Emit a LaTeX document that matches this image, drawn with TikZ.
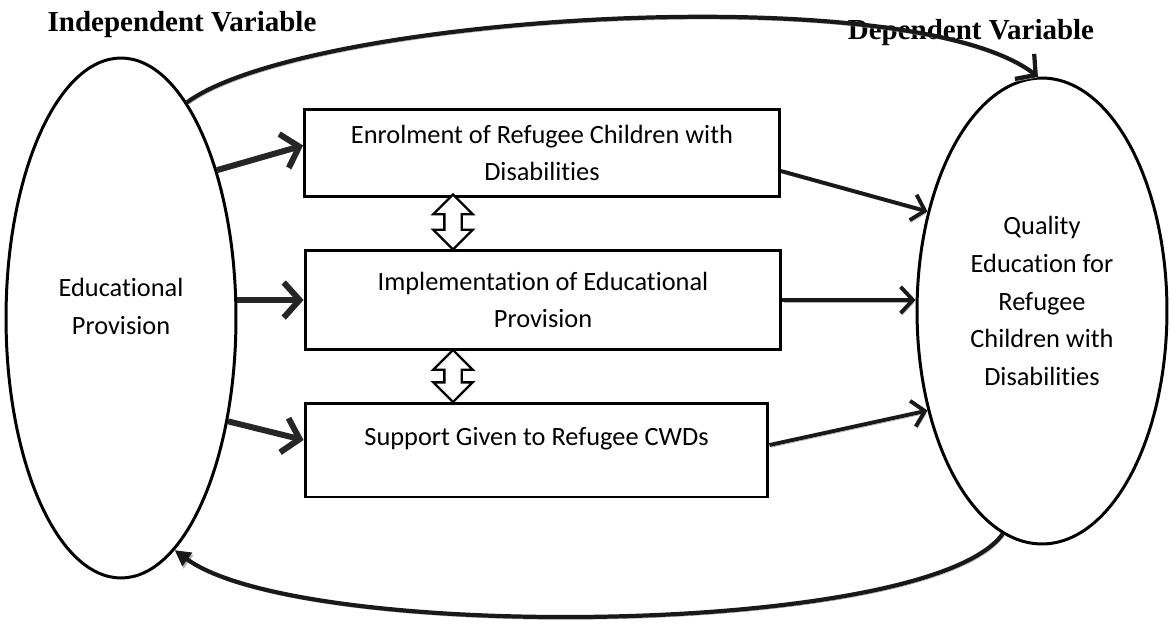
\documentclass[tikz,border=0pt]{standalone}
\usepackage{fontspec}
\setmainfont{Carlito}[Ligatures=NoCommon]
\newfontfamily\titlefont{Liberation Serif}
\usetikzlibrary{shapes.geometric,shapes.arrows,arrows.meta}
\begin{document}
\begin{tikzpicture}[x=0.02cm, y=-0.02cm,
  every node/.style={font=\fontsize{15}{21.5}\selectfont, align=center},
  box/.style={draw, line width=1.7pt, inner sep=0pt},
  oval/.style={ellipse, draw, line width=1.7pt, inner sep=0pt},
  heading/.style={font=\titlefont\bfseries\fontsize{16.5}{20}\selectfont},
  shadowed/.style={preaction={draw=black!30, transform canvas={shift={(0.7pt,-1.3pt)}}}},
  fat arrow/.style={shadowed, line width=3.4pt, draw=black!85, -{Straight Barb[length=9pt, width=20pt]}},
  slim arrow/.style={shadowed, line width=2.2pt, draw=black!90, -{Straight Barb[length=7pt, width=15pt]}},
  loop arrow/.style={shadowed, line width=2.4pt, draw=black!90},
  updown/.style={double arrow, shape border rotate=90, draw, fill=white, line width=1.3pt,
    inner sep=0.15cm, minimum height=1.1cm, minimum width=0.74cm, double arrow head extend=0.22cm}]
\useasboundingbox (0,0) rectangle (1170,625);

\node at (182,25) [heading] (IVT) {Independent Variable};
\node at (971,33) [heading] (DVT) {Dependent Variable};

\node at (121,318) [oval, minimum width=4.6cm, minimum height=10.4cm] (IV) {Educational\\Provision\\[-8pt]~};
\node at (1042,311) [oval, minimum width=5cm, minimum height=9.32cm] (DV) {Quality\\Education for\\Refugee\\Children with\\Disabilities\\[-10pt]~};

\node at (542,153) [box, minimum width=9.5cm, minimum height=1.74cm] (E) {Enrolment of Refugee Children with\\Disabilities};
\node at (543,300) [box, minimum width=9.52cm, minimum height=2cm] (I) {Implementation of Educational\\Provision};
\node at (536.5,450) [box, minimum width=9.26cm, minimum height=1.88cm] (S) {Support Given to Refugee CWDs\\[-6pt]~};

\node at (453,222) [updown] (U1) {};
\node at (453,376) [updown, minimum height=1.04cm] (U2) {};

\draw[fat arrow] (IV.57) -- ([yshift=0.15cm]E.west);
\draw[fat arrow] (IV.east |- I.west) -- (I.west);
\draw[fat arrow] (IV.316) -- ([yshift=0.2cm]S.west);

\draw[slim arrow] ([yshift=-0.36cm]E.east) -- (DV.139);
\draw[slim arrow] (I.east) -- (DV.west |- I.east);
\draw[slim arrow] ([yshift=0.1cm]S.east) -- (DV.221);

\draw[loop arrow, -{Straight Barb[length=8pt, width=18pt]}] (IV.73) .. controls +(118,-87) and +(-130,-100) .. (DV.91);
\draw[loop arrow, -{Triangle[length=9pt, width=9pt]}] (DV.260) .. controls +(-73,103) and +(127,93) .. (IV.283);
\end{tikzpicture}
\end{document}
